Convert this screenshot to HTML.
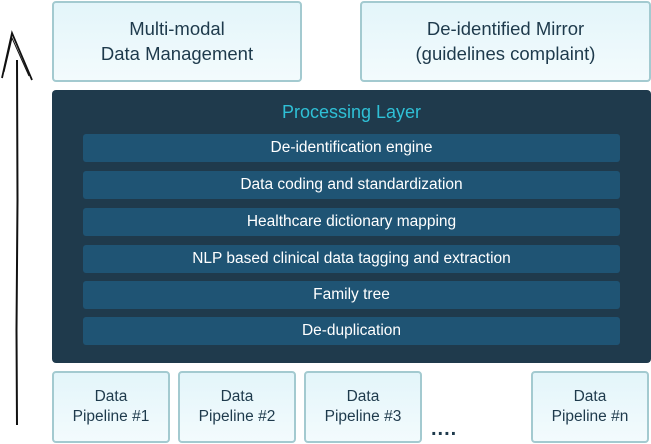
<!DOCTYPE html>
<html><head><style>
body{margin:0;width:651px;height:444px;background:#fff;position:relative;font-family:"Liberation Sans",sans-serif;overflow:hidden}
.lb{position:absolute;box-sizing:border-box;border:2px solid #a3cad0;border-radius:4px;background:linear-gradient(#e3f5fa,#f3fbfd);color:#1e3a4c;display:flex;align-items:center;justify-content:center;text-align:center;line-height:1.3}
.top{font-size:18.5px;top:1px;height:81px}
.bot{font-size:15.5px;top:371px;height:72px;width:118px}
#panel{position:absolute;left:52px;top:90px;width:599px;height:273px;background:#1f3a4c;border-radius:4px}
.row{position:absolute;left:31px;width:537px;height:28px;background:#1f5474;border-radius:3px;color:#fff;font-size:15.5px;display:flex;align-items:center;justify-content:center}
</style></head><body>
<svg style="position:absolute;left:0;top:0" width="40" height="444">
<path d="M17 60 L17.5 200 L16.5 330 L17 425" stroke="#111" stroke-width="2" fill="none"/>
<path d="M2 78 L12 33 L32 80" stroke="#111" stroke-width="1.8" fill="none"/>
<path d="M4 72 L12 38 L29 76" stroke="#111" stroke-width="1" fill="none"/>
</svg>
<div class="lb top" style="left:52px;width:250px">Multi-modal<br>Data Management</div>
<div class="lb top" style="left:360px;width:291px">De-identified Mirror<br>(guidelines complaint)</div>
<div id="panel">
<div style="position:absolute;top:12px;width:100%;text-align:center;color:#2fc0d6;font-size:18px">Processing Layer</div>
<div class="row" style="top:44px">De-identification engine</div>
<div class="row" style="top:81px">Data coding and standardization</div>
<div class="row" style="top:118px">Healthcare dictionary mapping</div>
<div class="row" style="top:155px">NLP based clinical data tagging and extraction</div>
<div class="row" style="top:191px">Family tree</div>
<div class="row" style="top:227px">De-duplication</div>
</div>
<div class="lb bot" style="left:52px">Data<br>Pipeline #1</div>
<div class="lb bot" style="left:178px">Data<br>Pipeline #2</div>
<div class="lb bot" style="left:304px">Data<br>Pipeline #3</div>
<div class="lb bot" style="left:531px">Data<br>Pipeline #n</div>
<div style="position:absolute;left:431px;top:418px;font-size:20px;font-weight:bold;color:#1e3a4c;letter-spacing:1px">....</div>
</body></html>
